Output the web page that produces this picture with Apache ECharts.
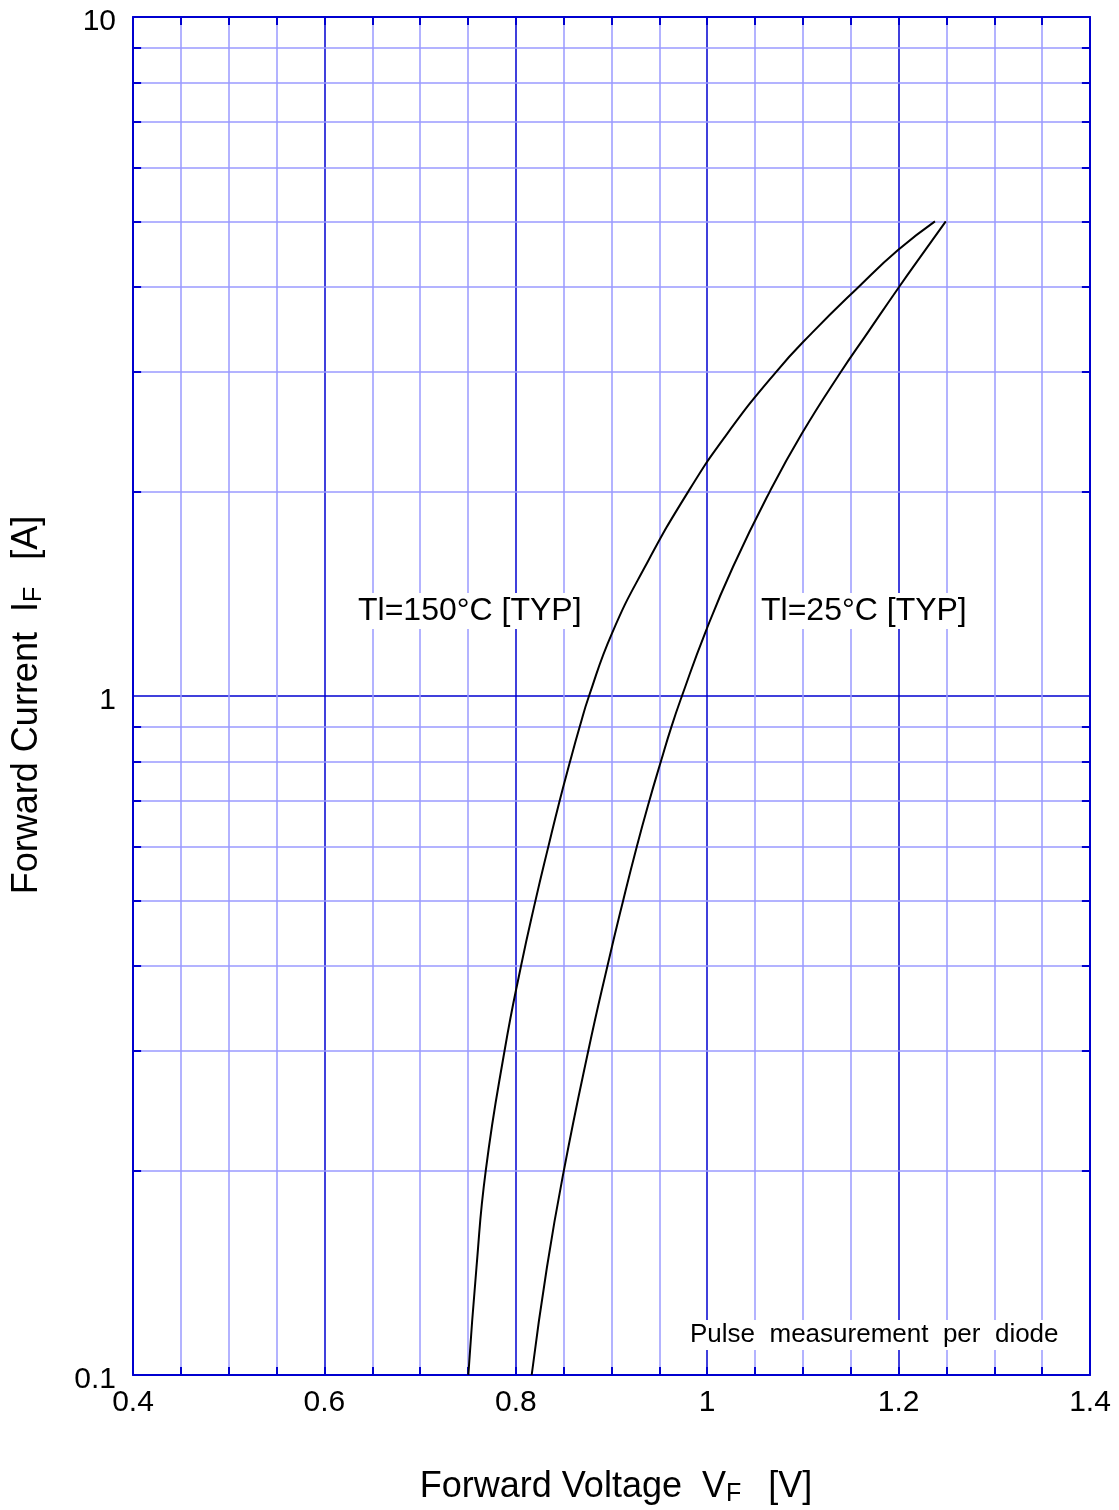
<!DOCTYPE html>
<html>
<head>
<meta charset="utf-8">
<title>Forward Current vs Forward Voltage</title>
<script src="https://cdn.jsdelivr.net/npm/echarts@6/dist/echarts.min.js"></script>
<style>
  html, body { margin: 0; padding: 0; background: #fff; }
  #chart { width: 1119px; height: 1510px; }
</style>
</head>
<body>
<div id="chart"></div>
<script>
// forward current levels (A), shared by both curves
const ifLevels = [0.10, 0.144, 0.20, 0.30, 0.40, 0.50, 0.60, 0.70, 0.80, 0.90, 1.00, 1.237, 1.55, 2.00, 2.437, 3.00, 3.42, 4.00, 4.54, 5.00]
// Tl = 150°C [TYP] forward voltage (V)
const vf150 = [0.7504, 0.7589, 0.7686, 0.7882, 0.8054, 0.8206, 0.8340, 0.8457, 0.8566, 0.8667, 0.8765, 0.9005, 0.9350, 0.9802, 1.0212, 1.0719, 1.1090, 1.1579, 1.1997, 1.2380]
// Tl = 25°C [TYP] forward voltage (V)
const vf25 = [0.8166, 0.8325, 0.8502, 0.8757, 0.8957, 0.9122, 0.9264, 0.9394, 0.9515, 0.9625, 0.9736, 0.9977, 1.0270, 1.0654, 1.0991, 1.1396, 1.1672, 1.2003, 1.2280, 1.2493]

// axes
const xTickValues = [0.4, 0.6, 0.8, 1.0, 1.2, 1.4]
const xTickLabels = ['0.4', '0.6', '0.8', '1', '1.2', '1.4']
const yTickLabels = { 0.1: '0.1', 1: '1', 10: '10' }
const yMinorTicks = [0.2, 0.3, 0.4, 0.5, 0.6, 0.7, 0.8, 0.9, 2, 3, 4, 5, 6, 7, 8, 9]

const DARK = '#0000d0'
const LIGHT = '#9a9aff'
const FONT = '"Liberation Sans", Arial, sans-serif'

const chart = echarts.init(document.getElementById('chart'))

const toPairs = (xs, ys) => xs.map((x, i) => [x, ys[i]])

// minor log grid lines + short inward ticks on both y sides
const TICK = 0.0085
const minorGrid = yMinorTicks.map((v) => [{ coord: [0.4, v] }, { coord: [1.4, v] }])
const leftTicks = yMinorTicks.map((v) => [
  { coord: [0.4, v], lineStyle: { color: DARK, width: 2 } },
  { coord: [0.4 + TICK, v] },
])
const rightTicks = yMinorTicks.map((v) => [
  { coord: [1.4 - TICK, v], lineStyle: { color: DARK, width: 2 } },
  { coord: [1.4, v] },
])

const titleRich = {
  n: { fontSize: 36, fontFamily: FONT, color: '#000', lineHeight: 40 },
  s: { fontSize: 25, fontFamily: FONT, color: '#000', lineHeight: 33, verticalAlign: 'bottom' },
}

const xAxisBase = {
  type: 'value',
  min: 0.4,
  max: 1.4,
  interval: 0.2,
  axisLine: { show: true, onZero: false, lineStyle: { color: DARK, width: 2 } },
  axisTick: { show: true, inside: true, length: 8, lineStyle: { color: DARK, width: 2 } },
  minorTick: { show: true, splitNumber: 4, length: 8, lineStyle: { color: DARK, width: 2 } },
}

chart.setOption({
  animation: false,
  backgroundColor: '#fff',
  grid: { left: 133, right: 29, top: 17, bottom: 135, outerBoundsMode: 'none' },
  xAxis: [
    {
      ...xAxisBase,
      position: 'bottom',
      splitLine: { show: true, lineStyle: { color: DARK, width: 1.5 } },
      minorSplitLine: { show: true, lineStyle: { color: LIGHT, width: 1.5 } },
      axisLabel: {
        color: '#000',
        fontSize: 30,
        fontFamily: FONT,
        margin: 13,
        formatter: (v) => {
          const i = xTickValues.findIndex((t) => Math.abs(t - v) < 1e-6)
          return i >= 0 ? xTickLabels[i] : ''
        },
      },
      name: '{n|Forward Voltage  V}{s|F }{n|  [V]}',
      nameLocation: 'middle',
      nameGap: 92,
      nameTextStyle: { rich: titleRich, padding: [0, 0, 0, 9] },
    },
    {
      ...xAxisBase,
      position: 'top',
      splitLine: { show: false },
      axisLabel: { show: false },
    },
  ],
  yAxis: [
    {
      type: 'log',
      logBase: 10,
      min: 0.1,
      max: 10,
      position: 'left',
      axisLine: { show: true, onZero: false, lineStyle: { color: DARK, width: 2 } },
      axisTick: { show: false },
      splitLine: { show: true, lineStyle: { color: DARK, width: 1.5 } },
      axisLabel: {
        color: '#000',
        fontSize: 30,
        fontFamily: FONT,
        margin: 17,
        formatter: (v) => {
          const t = yTickLabels[+v.toPrecision(3)]
          return t ? '{a|' + t + '}' : ''
        },
        rich: { a: { fontSize: 30, fontFamily: FONT, color: '#000', padding: [9, 0, 0, 0] } },
      },
      name: '{n|Forward Current  I}{s|F }{n|  [A]}',
      nameLocation: 'middle',
      nameGap: 86,
      nameTextStyle: { rich: titleRich, padding: [0, 18, 0, 0] },
    },
    {
      type: 'log',
      logBase: 10,
      min: 0.1,
      max: 10,
      position: 'right',
      axisLine: { show: true, onZero: false, lineStyle: { color: DARK, width: 2 } },
      axisTick: { show: false },
      splitLine: { show: false },
      axisLabel: { show: false },
    },
  ],
  series: [
    {
      // helper series: minor grid and y ticks
      type: 'line',
      data: [],
      z: 1,
      silent: true,
      markLine: {
        silent: true,
        symbol: 'none',
        label: { show: false },
        lineStyle: { color: LIGHT, width: 1.5, type: 'solid' },
        data: [...minorGrid, ...leftTicks, ...rightTicks],
      },
    },
    {
      name: 'Tl=150°C',
      type: 'line',
      data: toPairs(vf150, ifLevels),
      smooth: 0.5,
      showSymbol: false,
      z: 5,
      lineStyle: { color: '#000', width: 2 },
    },
    {
      name: 'Tl=25°C',
      type: 'line',
      data: toPairs(vf25, ifLevels),
      smooth: 0.5,
      showSymbol: false,
      z: 5,
      lineStyle: { color: '#000', width: 2 },
    },
  ],
  graphic: [
    {
      type: 'text',
      x: 354,
      y: 611,
      z: 10,
      style: { text: 'Tl=150°C [TYP]', font: '32px ' + FONT, fill: '#000', verticalAlign: 'middle', backgroundColor: '#fff', padding: [2, 4] },
    },
    {
      type: 'text',
      x: 757,
      y: 611,
      z: 10,
      style: { text: 'Tl=25°C [TYP]', font: '32px ' + FONT, fill: '#000', verticalAlign: 'middle', backgroundColor: '#fff', padding: [2, 4] },
    },
    {
      type: 'text',
      x: 686,
      y: 1335,
      z: 10,
      style: { text: 'Pulse  measurement  per  diode', font: '26px ' + FONT, fill: '#000', verticalAlign: 'middle', backgroundColor: '#fff', padding: [2, 4] },
    },
  ],
})
</script>
</body>
</html>
